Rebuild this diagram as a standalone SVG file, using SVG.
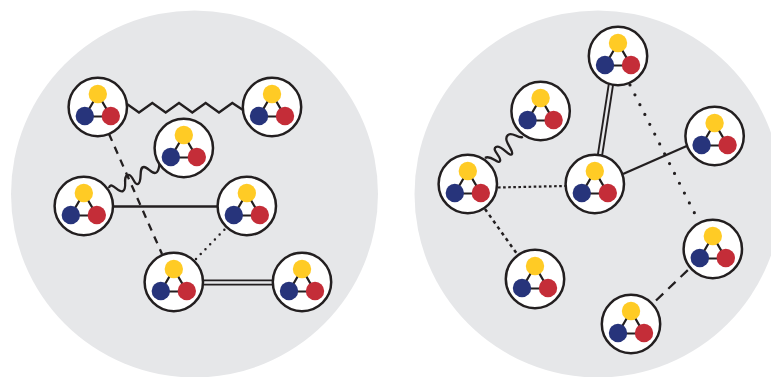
<svg xmlns="http://www.w3.org/2000/svg" width="771" height="377" viewBox="0 0 771 377">
<style>
.bg{fill:#e6e7e9}
.ring{fill:#fff;stroke:#231f20;stroke-width:2.500}
.tri{fill:none;stroke:#231f20;stroke-width:2.200}
.y{fill:#ffcb25}.b{fill:#27347b}.r{fill:#c42d38}
.c{fill:none;stroke:#231f20;stroke-width:2.300}
.dash1{stroke-dasharray:7.500 6.500}
.dash2{stroke-dasharray:10 7}
.dot{stroke-width:3.200;stroke-linecap:round;stroke-dasharray:0 11}
.dot2{stroke-width:2.500;stroke-linecap:round;stroke-dasharray:0 6.800}
.sq{stroke-width:2.200;stroke-dasharray:2.600 2.500}
.dl{stroke-width:2.500;stroke-dasharray:3.400 3.800}
.dbl{stroke-width:6.200}
.dbl2{stroke:#e6e7e9;stroke-width:2.400}
</style>
<defs>
<g id="n">
<circle class="ring" r="29.200"/>
<path class="tri" d="M0-13L-13 9.500H13Z"/>
<circle class="y" cy="-13" r="9.200"/>
<circle class="b" cx="-13" cy="9" r="9.200"/>
<circle class="r" cx="13" cy="9" r="9.200"/>
</g>
</defs>
<circle class="bg" cx="194.500" cy="194" r="183.500"/>
<circle class="bg" cx="598" cy="194" r="183.500"/>
<g id="connectors">
<path class="c" d="M127 104L139 112.500L152.300 103L165.700 112.500L179 103L192.300 112.500L205.700 103L219 112.500L232.300 103L243 110"/>
<path class="c dash1" d="M109 134L162 254"/>
<path class="c" d="M109 188C111 180 119 194 123 191C128 188 122 176 128 175C133 174 134 186 138 184C143 181 138 167 144 167C148 167 153 176 157 172C160 169 159 164 160 158"/>
<path class="c" d="M112 206.500H218"/>
<path class="c dot2" d="M196 259L225 229"/>
<path class="c dbl" d="M203 282.500H273"/>
<path class="c dbl2" d="M203 282.500H273"/>
<path class="c" d="M485 158C491 154 498 165 500 161C502 157 491 150 496 147C501 144 510 158 512 154C514 150 502 140 508 135C512 131 518 139 523 137"/>
<path class="c dbl" d="M611 84L600 155"/>
<path class="c dbl2" d="M611 84L600 155"/>
<path class="c dot" d="M630 85L699 222"/>
<path class="c" d="M623 174L689 145"/>
<path class="c sq" d="M498 187.500L565 186"/>
<path class="c dl" d="M485 209L517 254"/>
<path class="c dash2" d="M656 300.500L690 268"/>
</g>
<g id="n1"><use href="#n" x="97.800" y="107"/></g>
<g id="n2"><use href="#n" x="272" y="107"/></g>
<g id="n3"><use href="#n" x="183.800" y="148"/></g>
<g id="n4"><use href="#n" x="83.800" y="206"/></g>
<g id="n5"><use href="#n" x="246.800" y="206"/></g>
<g id="n6"><use href="#n" x="173.800" y="282"/></g>
<g id="n7"><use href="#n" x="302" y="282"/></g>
<g id="n8"><use href="#n" x="618" y="56"/></g>
<g id="n9"><use href="#n" x="540.600" y="111"/></g>
<g id="n10"><use href="#n" x="714.600" y="136"/></g>
<g id="n11"><use href="#n" x="467.800" y="184"/></g>
<g id="n12"><use href="#n" x="594.800" y="184"/></g>
<g id="n13"><use href="#n" x="712.800" y="249"/></g>
<g id="n14"><use href="#n" x="535" y="279"/></g>
<g id="n15"><use href="#n" x="631" y="324"/></g>
</svg>
